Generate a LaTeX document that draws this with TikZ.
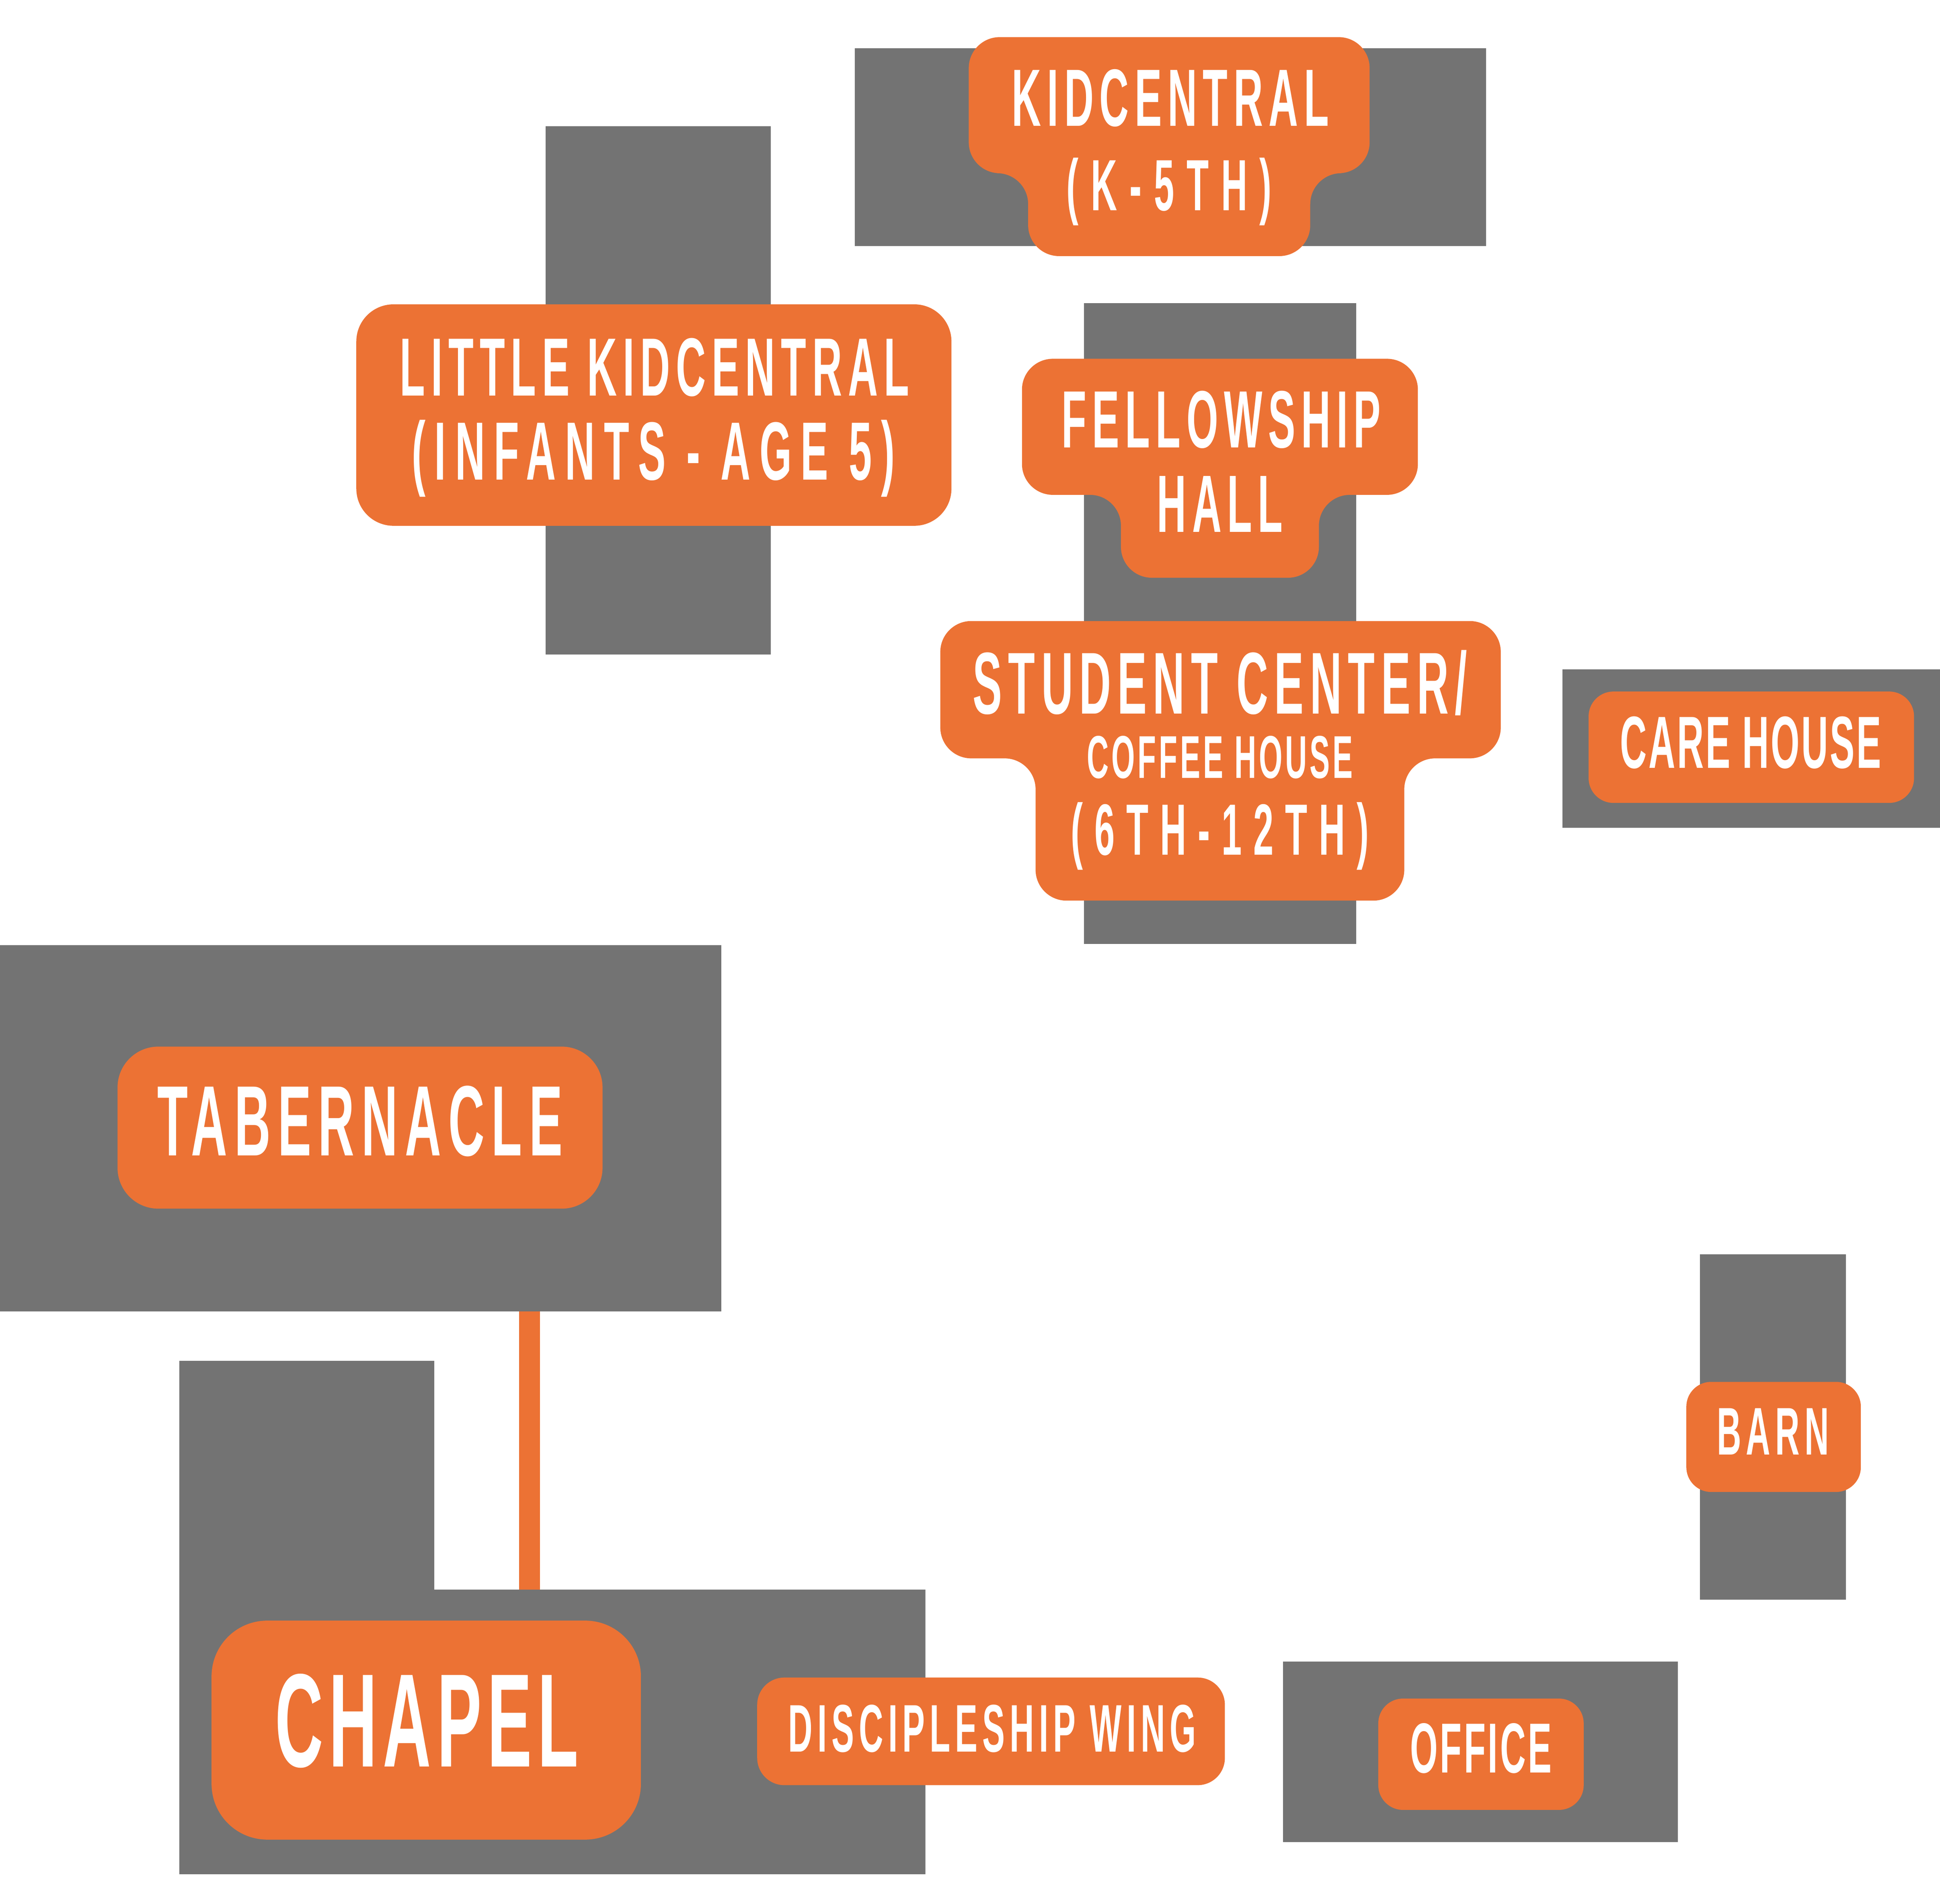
\documentclass[tikz,border=0pt]{standalone}
\usepackage{fontspec}
\setmainfont{Liberation Sans}[FakeStretch=0.5]
\definecolor{bldggray}{HTML}{737373}
\definecolor{tagorange}{HTML}{EC7234}

\begin{document}
\begin{tikzpicture}[x=0.1mm,y=-0.1mm,
    bldg/.style={fill=bldggray},
    tag/.style={fill=tagorange},
    lbl/.style 2 args={text=white,inner sep=0pt,anchor=base,
        font=\bfseries\fontsize{#1}{#1}\selectfont\addfontfeature{LetterSpace=#2}}]
    \useasboundingbox (0,0) rectangle (1568,1539);
    % buildings
    \fill[bldg] (691,39) rectangle (1201,199);
    \fill[bldg] (441,102) rectangle (623,529);
    \fill[bldg] (876,245) rectangle (1096,763);
    \fill[bldg] (1263,541) rectangle (1568,669);
    \fill[bldg] (0,764) rectangle (583,1060);
    \fill[bldg] (145,1100) -- (351,1100) -- (351,1285) -- (748,1285) -- (748,1515) -- (145,1515) -- cycle;
    \fill[bldg] (1374,1014) rectangle (1492,1293);
    \fill[bldg] (1037,1343) rectangle (1356,1489);
    \coordinate (tab-s) at (428,1060);
    \coordinate (chap-n) at (428,1285);
    \draw[tagorange, line width=1.7mm] (tab-s) -- (chap-n);
    % tags
    \fill[tag, rounded corners=2.5mm] (783,30) -- (1107,30) -- (1107,140) -- (1059,140) -- (1059,207) -- (831,207) -- (831,140) -- (783,140) -- cycle;
    \fill[tag, rounded corners=3mm] (288,246) rectangle (769,425);
    \fill[tag, rounded corners=2.5mm] (826,290) -- (1146,290) -- (1146,400) -- (1066,400) -- (1066,467) -- (906,467) -- (906,400) -- (826,400) -- cycle;
    \fill[tag, rounded corners=2.5mm] (760,502) -- (1213,502) -- (1213,613) -- (1135,613) -- (1135,728) -- (837,728) -- (837,613) -- (760,613) -- cycle;
    \fill[tag, rounded corners=2mm] (1284,559) rectangle (1547,649);
    \fill[tag, rounded corners=3.3mm] (95,846) rectangle (487,977);
    \fill[tag, rounded corners=2mm] (1363,1117) rectangle (1504,1206);
    \fill[tag, rounded corners=4.5mm] (171,1310) rectangle (518,1487);
    \fill[tag, rounded corners=2.2mm] (612,1356) rectangle (990,1443);
    \fill[tag, rounded corners=2mm] (1114,1373) rectangle (1280,1463);
    % labels
    \node[lbl={18.7pt}{7.2}] (kidcentral) at (946,102) {KIDCENTRAL};
    \node[lbl={16.7pt}{17}] (kidcentral-ages) at (945,170) {(K-5TH)};
    \node[lbl={19pt}{7.2}] (little-kc) at (529,320) {LITTLE KIDCENTRAL};
    \node[lbl={19pt}{11}] (little-kc-ages) at (528,388) {(INFANTS - AGE 5)};
    \node[lbl={18.7pt}{7.2}] (fellowship) at (987,362) {FELLOWSHIP};
    \node[lbl={18.7pt}{7.2}] (fellowship-hall) at (986,430) {HALL};
    \node[lbl={20.2pt}{7.2}] (student) at (986,577) {STUDENT CENTER/};
    \node[lbl={13.9pt}{4.5}] (coffee) at (986,629) {COFFEE HOUSE};
    \node[lbl={16.7pt}{16}] (student-ages) at (986,691) {(6TH-12TH)};
    \node[lbl={17pt}{2.5}] (care) at (1415,621) {CARE HOUSE};
    \node[lbl={23pt}{7.2}] (tabernacle) at (291,934) {TABERNACLE};
    \node[lbl={15.5pt}{7.2}] (barn) at (1433,1176) {BARN};
    \node[lbl={30.6pt}{4.5}] (chapel) at (345,1428) {CHAPEL};
    \node[lbl={15.5pt}{7.2}] (discipleship) at (802,1416) {DISCIPLESHIP WING};
    \node[lbl={16.3pt}{3.3}] (office) at (1197,1433) {OFFICE};
\end{tikzpicture}
\end{document}
